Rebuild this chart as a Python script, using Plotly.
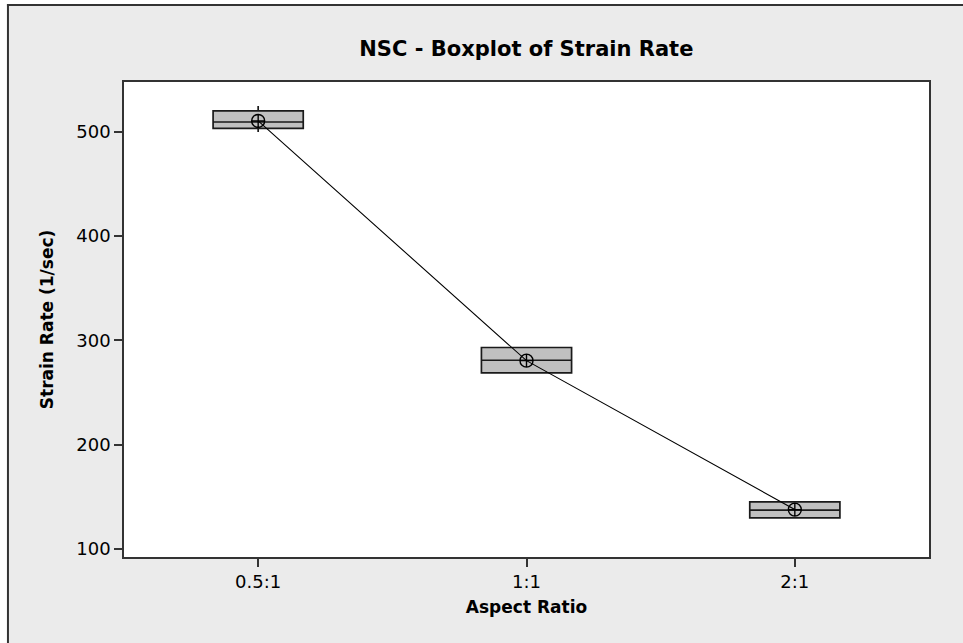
import plotly.graph_objects as go

categories = ["0.5:1", "1:1", "2:1"]
positions = [0, 1, 2]
q1 = [503.5, 268.7, 129.6]
median = [509.6, 280.9, 137.0]
q3 = [520.2, 293.1, 144.9]
lower_fence = [500.0, 268.7, 129.6]
upper_fence = [525.0, 293.1, 144.9]
means = [510.6, 280.5, 137.5]
y_ticks = [100, 200, 300, 400, 500]

fig = go.Figure()
for i in range(len(categories)):
    fig.add_trace(go.Box(
        x=[positions[i]], q1=[q1[i]], median=[median[i]], q3=[q3[i]],
        lowerfence=[lower_fence[i]], upperfence=[upper_fence[i]],
        width=0.336, whiskerwidth=0, fillcolor="#c0c0c0",
        line=dict(color="#1a1a1a", width=1.7), showlegend=False,
        hoverinfo="skip"))

fig.add_trace(go.Scatter(
    x=positions, y=means, mode="lines+markers",
    line=dict(color="black", width=1.1),
    marker=dict(symbol="circle-cross-open", size=13, color="black",
                line=dict(width=1.4, color="black")),
    showlegend=False))

W, H = 963, 643
L, T = 124, 82
R = W - 928.7
B = H - 556.7
pw, ph = W - L - R, H - T - B

def px2x(px):
    return (px - L) / pw

def py2y(py):
    return (H - B - py) / ph

# grey frame background (white strip above/left of it), white plot area on top
fig.add_shape(type="rect", xref="paper", yref="paper", layer="below",
              x0=px2x(8), x1=px2x(W + 5), y0=py2y(5), y1=py2y(H + 5),
              fillcolor="#ebebeb", line=dict(width=0))
fig.add_shape(type="rect", xref="paper", yref="paper", layer="below",
              x0=0, x1=1, y0=0, y1=1, fillcolor="white", line=dict(width=0))
fig.add_shape(type="line", xref="paper", yref="paper",
              x0=px2x(8), x1=px2x(8), y0=py2y(4), y1=py2y(H + 5),
              line=dict(color="#333333", width=2))
fig.add_shape(type="line", xref="paper", yref="paper",
              x0=px2x(7), x1=px2x(W + 5), y0=py2y(5), y1=py2y(5),
              line=dict(color="#333333", width=2))

fig.update_layout(
    width=W, height=H,
    margin=dict(l=L, r=R, t=T, b=B),
    paper_bgcolor="white", plot_bgcolor="white",
    font=dict(family="DejaVu Sans", size=18, color="black"),
    title=dict(text="<b>NSC - Boxplot of Strain Rate</b>",
               font=dict(size=21, family="DejaVu Sans"),
               x=(L + pw / 2) / W, xanchor="center",
               y=1 - 49 / H, yanchor="middle"),
    xaxis=dict(range=[-0.5, 2.5], tickvals=positions, ticktext=categories,
               ticks="outside", ticklen=8, tickcolor="#333", tickwidth=1.5,
               showline=True, mirror=True, linecolor="#333", linewidth=1.6,
               showgrid=False, zeroline=False,
               title=dict(text="<b>Aspect Ratio</b>", font=dict(size=17), standoff=10)),
    yaxis=dict(range=[92, 548], tickvals=y_ticks,
               ticks="outside", ticklen=8, tickcolor="#333", tickwidth=1.5,
               showline=True, mirror=True, linecolor="#333", linewidth=1.6,
               showgrid=False, zeroline=False,
               title=dict(text="<b>Strain Rate (1/sec)</b>", font=dict(size=17), standoff=18)),
)

fig.write_html("out.html",
               config={"displayModeBar": False},
               post_script="document.body.style.margin='0';"
                           "document.documentElement.style.overflow='hidden';")
